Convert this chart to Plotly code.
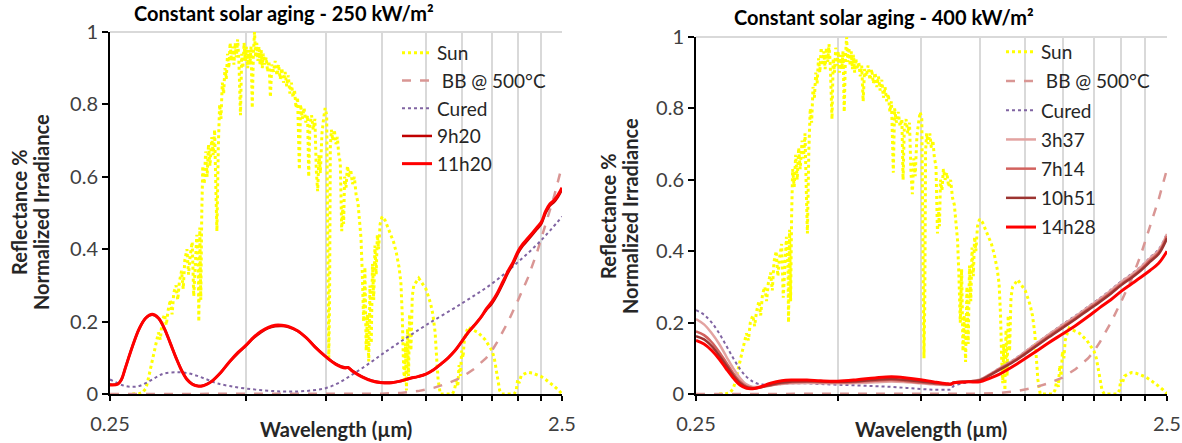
import math
import plotly.graph_objects as go

# ---------------- data ----------------
SUN_WL = [0.280, 0.290, 0.295, 0.300, 0.303, 0.306, 0.310, 0.313, 0.316, 0.320, 0.323, 0.326, 0.330, 0.333,
          0.336, 0.340, 0.343, 0.346, 0.350, 0.353, 0.356, 0.360, 0.363, 0.366, 0.370, 0.373, 0.376, 0.380,
          0.383, 0.386, 0.389, 0.392, 0.393, 0.395, 0.397, 0.399, 0.401, 0.404, 0.407, 0.410, 0.413, 0.416,
          0.420, 0.423, 0.426, 0.429, 0.431, 0.434, 0.437, 0.440, 0.443, 0.446, 0.449, 0.452, 0.455, 0.458,
          0.461, 0.464, 0.467, 0.470, 0.473, 0.476, 0.479, 0.482, 0.486, 0.489, 0.492, 0.495, 0.498, 0.501,
          0.504, 0.507, 0.510, 0.513, 0.516, 0.519, 0.522, 0.525, 0.528, 0.531, 0.534, 0.537, 0.540, 0.543,
          0.546, 0.550, 0.554, 0.558, 0.562, 0.566, 0.570, 0.575, 0.580, 0.585, 0.590, 0.595, 0.600, 0.605,
          0.610, 0.615, 0.620, 0.625, 0.630, 0.635, 0.640, 0.645, 0.650, 0.656, 0.660, 0.666, 0.672, 0.678,
          0.684, 0.688, 0.692, 0.698, 0.704, 0.710, 0.715, 0.720, 0.725, 0.730, 0.736, 0.742, 0.748, 0.754,
          0.759, 0.762, 0.765, 0.768, 0.772, 0.778, 0.784, 0.790, 0.796, 0.802, 0.808, 0.814, 0.818, 0.822,
          0.826, 0.832, 0.838, 0.845, 0.852, 0.860, 0.868, 0.876, 0.884, 0.892, 0.898, 0.904, 0.910, 0.916,
          0.922, 0.928, 0.934, 0.940, 0.946, 0.952, 0.958, 0.964, 0.970, 0.976, 0.982, 0.990, 1.000, 1.015,
          1.030, 1.045, 1.060, 1.075, 1.090, 1.100, 1.108, 1.114, 1.120, 1.126, 1.132, 1.138, 1.144, 1.150,
          1.158, 1.166, 1.175, 1.190, 1.205, 1.220, 1.235, 1.250, 1.265, 1.280, 1.295, 1.310, 1.320, 1.330,
          1.345, 1.360, 1.400, 1.430, 1.445, 1.460, 1.470, 1.480, 1.490, 1.500, 1.510, 1.520, 1.535, 1.550,
          1.570, 1.600, 1.630, 1.660, 1.690, 1.720, 1.750, 1.770, 1.790, 1.805, 1.820, 1.840, 1.900, 1.960,
          1.980, 1.995, 2.010, 2.030, 2.060, 2.100, 2.150, 2.200, 2.250, 2.300, 2.350, 2.400, 2.450, 2.500]
SUN_VAL = [0.000, 0.001, 0.004, 0.015, 0.035, 0.060, 0.090, 0.110, 0.140, 0.170, 0.150, 0.200, 0.220, 0.190,
           0.230, 0.260, 0.220, 0.280, 0.300, 0.260, 0.310, 0.340, 0.290, 0.370, 0.400, 0.330, 0.380, 0.420,
           0.270, 0.370, 0.440, 0.360, 0.200, 0.460, 0.260, 0.500, 0.630, 0.580, 0.670, 0.600, 0.690, 0.630,
           0.710, 0.660, 0.730, 0.550, 0.450, 0.680, 0.800, 0.760, 0.860, 0.830, 0.900, 0.870, 0.940, 0.900,
           0.970, 0.920, 0.960, 0.910, 0.970, 0.930, 0.980, 0.920, 0.770, 0.940, 0.900, 0.970, 0.920, 0.960,
           0.900, 0.950, 0.910, 0.960, 0.790, 0.940, 1.000, 0.930, 0.970, 0.920, 0.960, 0.910, 0.950, 0.900,
           0.940, 0.910, 0.930, 0.890, 0.920, 0.820, 0.910, 0.890, 0.920, 0.880, 0.910, 0.870, 0.900, 0.860,
           0.890, 0.850, 0.880, 0.830, 0.860, 0.820, 0.840, 0.790, 0.820, 0.620, 0.800, 0.760, 0.790, 0.750,
           0.770, 0.600, 0.740, 0.770, 0.730, 0.760, 0.620, 0.560, 0.660, 0.610, 0.720, 0.760, 0.790, 0.770,
           0.400, 0.100, 0.250, 0.680, 0.730, 0.700, 0.730, 0.690, 0.710, 0.660, 0.640, 0.450, 0.520, 0.470,
           0.600, 0.570, 0.630, 0.600, 0.620, 0.580, 0.600, 0.550, 0.530, 0.470, 0.430, 0.330, 0.200, 0.350,
           0.120, 0.220, 0.090, 0.300, 0.140, 0.360, 0.260, 0.410, 0.330, 0.440, 0.400, 0.470, 0.490, 0.480,
           0.460, 0.440, 0.420, 0.390, 0.350, 0.310, 0.220, 0.100, 0.030, 0.140, 0.010, 0.180, 0.050, 0.220,
           0.120, 0.270, 0.300, 0.310, 0.320, 0.310, 0.300, 0.290, 0.270, 0.250, 0.220, 0.170, 0.100, 0.040,
           0.000, 0.000, 0.000, 0.000, 0.010, 0.040, 0.020, 0.080, 0.050, 0.120, 0.100, 0.150, 0.170, 0.185,
           0.180, 0.175, 0.170, 0.160, 0.150, 0.135, 0.120, 0.100, 0.060, 0.030, 0.010, 0.000, 0.000, 0.000,
           0.010, 0.040, 0.030, 0.050, 0.055, 0.060, 0.058, 0.054, 0.048, 0.040, 0.032, 0.022, 0.012, 0.000]

BB_WL = [0.25, 0.50, 0.75, 0.90, 1.00, 1.10, 1.20, 1.30, 1.40, 1.50, 1.60, 1.70, 1.75, 1.80, 1.90, 2.00,
         2.10, 2.20, 2.25, 2.30, 2.40, 2.50]
BB_VAL = [0.0, 0.0, 0.0, 0.0, 0.001, 0.003, 0.008, 0.017, 0.030, 0.046, 0.070, 0.100, 0.120, 0.145, 0.200,
          0.260, 0.320, 0.390, 0.430, 0.470, 0.545, 0.630]

# left panel (250 kW/m2)
L_WL = [0.25, 0.26, 0.265, 0.27, 0.28, 0.29, 0.30, 0.31, 0.32, 0.33, 0.34, 0.35, 0.36, 0.37, 0.38, 0.39,
        0.40, 0.41, 0.42, 0.44, 0.46, 0.48, 0.50, 0.52, 0.54, 0.56, 0.58, 0.60, 0.62, 0.65, 0.68, 0.71,
        0.75, 0.79, 0.83, 0.84, 0.86, 0.90, 0.95, 1.00, 1.05, 1.10, 1.15, 1.20, 1.25, 1.30, 1.35, 1.40,
        1.45, 1.50, 1.55, 1.60, 1.65, 1.70, 1.75, 1.80, 1.85, 1.90, 1.95, 2.00, 2.05, 2.10, 2.15, 2.20,
        2.25, 2.30, 2.35, 2.40, 2.45, 2.50]
L_9H20 = [0.026, 0.028, 0.040, 0.070, 0.130, 0.180, 0.210, 0.219, 0.209, 0.180, 0.140, 0.100, 0.066, 0.041,
          0.028, 0.023, 0.023, 0.028, 0.036, 0.060, 0.089, 0.113, 0.134, 0.155, 0.171, 0.182, 0.187, 0.188,
          0.185, 0.174, 0.155, 0.131, 0.104, 0.083, 0.073, 0.074, 0.064, 0.049, 0.037, 0.032, 0.032, 0.036,
          0.043, 0.048, 0.055, 0.067, 0.083, 0.100, 0.120, 0.145, 0.170, 0.190, 0.210, 0.232, 0.250, 0.275,
          0.305, 0.335, 0.360, 0.390, 0.410, 0.425, 0.440, 0.455, 0.470, 0.500, 0.520, 0.530, 0.545, 0.565]
L_11H20 = [0.025, 0.027, 0.040, 0.070, 0.130, 0.180, 0.210, 0.220, 0.210, 0.180, 0.140, 0.100, 0.065, 0.040,
           0.027, 0.022, 0.022, 0.027, 0.035, 0.060, 0.090, 0.115, 0.135, 0.157, 0.173, 0.184, 0.190, 0.190,
           0.187, 0.175, 0.155, 0.130, 0.103, 0.082, 0.072, 0.073, 0.063, 0.048, 0.036, 0.031, 0.031, 0.036,
           0.043, 0.048, 0.055, 0.067, 0.083, 0.100, 0.120, 0.145, 0.170, 0.190, 0.210, 0.235, 0.255, 0.280,
           0.310, 0.340, 0.365, 0.395, 0.415, 0.430, 0.445, 0.460, 0.475, 0.505, 0.525, 0.535, 0.550, 0.570]
L_CURED_WL = [0.25, 0.26, 0.27, 0.28, 0.29, 0.30, 0.31, 0.32, 0.33, 0.35, 0.37, 0.39, 0.41, 0.43, 0.46,
              0.50, 0.55, 0.60, 0.65, 0.70, 0.75, 0.80, 0.85, 0.90, 0.95, 1.00, 1.10, 1.25, 1.50, 1.75,
              2.00, 2.25, 2.50]
L_CURED = [0.040, 0.030, 0.022, 0.020, 0.022, 0.030, 0.040, 0.050, 0.057, 0.060, 0.058, 0.050, 0.040,
           0.030, 0.022, 0.015, 0.010, 0.007, 0.007, 0.010, 0.016, 0.030, 0.050, 0.070, 0.090, 0.110,
           0.145, 0.190, 0.250, 0.305, 0.365, 0.425, 0.490]

# right panel (400 kW/m2)
R_WL = [0.25, 0.26, 0.27, 0.28, 0.29, 0.30, 0.31, 0.32, 0.33, 0.34, 0.36, 0.38, 0.40, 0.43, 0.46, 0.50,
        0.55, 0.60, 0.65, 0.70, 0.75, 0.80, 0.85, 0.87, 0.88, 0.92, 0.95, 1.00, 1.05, 1.10, 1.20, 1.30,
        1.40, 1.50, 1.60, 1.70, 1.80, 1.90, 2.00, 2.10, 2.20, 2.30, 2.40, 2.50]
R_CURED = [0.235, 0.222, 0.200, 0.170, 0.135, 0.100, 0.070, 0.048, 0.035, 0.028, 0.026, 0.028, 0.030, 0.030,
           0.028, 0.026, 0.024, 0.022, 0.020, 0.017, 0.014, 0.012, 0.012, 0.013, 0.022, 0.030, 0.033, 0.040,
           0.055, 0.072, 0.102, 0.136, 0.167, 0.195, 0.220, 0.245, 0.268, 0.292, 0.316, 0.336, 0.357, 0.382,
           0.405, 0.450]
R_3H37 = [0.210, 0.195, 0.170, 0.140, 0.105, 0.072, 0.045, 0.027, 0.020, 0.020, 0.024, 0.028, 0.030, 0.031,
          0.030, 0.030, 0.031, 0.033, 0.035, 0.033, 0.030, 0.027, 0.025, 0.026, 0.032, 0.034, 0.035, 0.040,
          0.055, 0.071, 0.101, 0.135, 0.166, 0.193, 0.218, 0.243, 0.266, 0.290, 0.314, 0.334, 0.355, 0.380,
          0.402, 0.448]
R_7H14 = [0.175, 0.165, 0.145, 0.118, 0.088, 0.058, 0.035, 0.021, 0.017, 0.018, 0.024, 0.030, 0.033, 0.034,
          0.033, 0.032, 0.034, 0.037, 0.039, 0.036, 0.032, 0.029, 0.026, 0.027, 0.032, 0.034, 0.035, 0.039,
          0.053, 0.069, 0.098, 0.131, 0.161, 0.188, 0.213, 0.238, 0.261, 0.284, 0.308, 0.328, 0.349, 0.374,
          0.396, 0.442]
R_10H51 = [0.162, 0.153, 0.134, 0.108, 0.080, 0.052, 0.031, 0.019, 0.016, 0.018, 0.026, 0.032, 0.035, 0.036,
           0.035, 0.034, 0.036, 0.040, 0.042, 0.039, 0.035, 0.031, 0.028, 0.028, 0.032, 0.034, 0.035, 0.038,
           0.052, 0.067, 0.096, 0.128, 0.158, 0.185, 0.210, 0.235, 0.258, 0.281, 0.305, 0.325, 0.346, 0.370,
           0.392, 0.436]
R_14H28 = [0.150, 0.140, 0.122, 0.098, 0.070, 0.045, 0.025, 0.016, 0.015, 0.018, 0.030, 0.037, 0.039, 0.039,
           0.037, 0.036, 0.040, 0.045, 0.048, 0.045, 0.040, 0.034, 0.029, 0.028, 0.031, 0.033, 0.034, 0.034,
           0.044, 0.055, 0.084, 0.114, 0.143, 0.168, 0.192, 0.217, 0.242, 0.264, 0.288, 0.308, 0.327, 0.346,
           0.366, 0.400]

TITLE_L = "Constant solar aging - 250 kW/m²"
TITLE_R = "Constant solar aging - 400 kW/m²"
X_TITLE = "Wavelength (µm)"
Y_TITLE_1 = "Reflectance %"
Y_TITLE_2 = "Normalized Irradiance"
X_TICKS = [0.25, 0.5, 0.75, 1.0, 1.25, 1.5, 1.75, 2.0, 2.25, 2.5]
X_TICKTEXT = ["0.25", "", "", "", "", "", "", "", "", "2.5"]
Y_TICKS = [0, 0.2, 0.4, 0.6, 0.8, 1.0]
Y_TICKTEXT = ["0", "0.2", "0.4", "0.6", "0.8", "1"]

# ---------------- styles ----------------
FONT = "Lato, 'Open Sans', sans-serif"
SUN_C, BB_C, CURED_C = "#FFFF00", "#D99694", "#8064A2"

W, H = 1182, 443
fig = go.Figure()


def add_panel(xa, ya, legend, aged):
    xs = "x" if xa == 1 else "x%d" % xa
    ys = "y" if ya == 1 else "y%d" % ya
    fig.add_trace(go.Scatter(x=SUN_WL, y=SUN_VAL, mode="lines", name="Sun", xaxis=xs, yaxis=ys,
                             line=dict(color=SUN_C, width=3, dash="3px,3px"), legend=legend,
                             legendgroup=legend + "a"))
    fig.add_trace(go.Scatter(x=BB_WL, y=BB_VAL, mode="lines", name=" BB @ 500°C", xaxis=xs, yaxis=ys,
                             line=dict(color=BB_C, width=2.5, dash="dash"), legend=legend,
                             legendgroup=legend + "b"))
    for i, (name, wl, vals, color, width, dash) in enumerate(aged):
        fig.add_trace(go.Scatter(x=wl, y=vals, mode="lines", name=name, xaxis=xs, yaxis=ys,
                                 line=dict(color=color, width=width, dash=dash, shape="spline"),
                                 legend=legend, legendgroup=legend + "c%d" % i))


add_panel(1, 1, "legend", [
    ("Cured", L_CURED_WL, L_CURED, CURED_C, 2, "dot"),
    ("9h20", L_WL, L_9H20, "#C00000", 2.5, "solid"),
    ("11h20", L_WL, L_11H20, "#FF0000", 3, "solid"),
])
add_panel(2, 2, "legend2", [
    ("Cured", R_WL, R_CURED, CURED_C, 2, "dot"),
    ("3h37", R_WL, R_3H37, "#E3A3A1", 2.5, "solid"),
    ("7h14", R_WL, R_7H14, "#D2625E", 2.5, "solid"),
    ("10h51", R_WL, R_10H51, "#9C3431", 2.5, "solid"),
    ("14h28", R_WL, R_14H28, "#FF0000", 3, "solid"),
])

L_X0, L_X1, L_Y0, L_Y1 = 110, 562, 394, 32
R_X0, R_X1, R_Y0, R_Y1 = 696, 1167, 394, 37


def xdom(a, b):
    return [a / W, b / W]


def ydom(bot, top):
    return [(H - bot) / H, (H - top) / H]


TICKFONT = dict(family=FONT, size=20, color="#404040")
xcommon = dict(type="log", range=[math.log10(0.25), math.log10(2.5)], tickvals=X_TICKS,
               ticktext=X_TICKTEXT, showgrid=True, gridcolor="#D9D9D9", gridwidth=2,
               showline=True, linecolor="black", linewidth=2, ticks="outside", ticklen=5,
               tickwidth=2, tickcolor="black", zeroline=False, layer="below traces",
               tickfont=TICKFONT, ticklabelstandoff=6, automargin=False)
ycommon = dict(range=[0, 1], tickvals=Y_TICKS, ticktext=Y_TICKTEXT, showgrid=False, zeroline=False,
               showline=True, linecolor="black", linewidth=2, ticks="outside", ticklen=6, tickwidth=2,
               tickcolor="black", tickfont=TICKFONT, automargin=False)

TITLE_FONT = dict(family=FONT, size=20, color="black")
AXT_FONT = dict(family=FONT, size=20, color="#262626")
YT_FONT = dict(family=FONT, size=20, color="#262626")


def ann(text, x, y, font, xanchor="center", yanchor="middle", angle=0):
    return dict(text="<b>" + text + "</b>", x=x / W, y=(H - y) / H, xref="paper", yref="paper",
                showarrow=False, xanchor=xanchor, yanchor=yanchor, textangle=angle, font=font)


annotations = [
    ann(TITLE_L, 284, 13, TITLE_FONT),
    ann(TITLE_R, 884, 17, TITLE_FONT),
    ann(X_TITLE, (L_X0 + L_X1) / 2, 429, AXT_FONT),
    ann(X_TITLE, (R_X0 + R_X1) / 2, 429, AXT_FONT),
    ann(Y_TITLE_1, 19, 212, YT_FONT, angle=-90),
    ann(Y_TITLE_2, 41, 212, YT_FONT, angle=-90),
    ann(Y_TITLE_1, 608, 216, YT_FONT, angle=-90),
    ann(Y_TITLE_2, 630, 216, YT_FONT, angle=-90),
]

fig.update_layout(
    width=W, height=H, margin=dict(l=0, r=0, t=0, b=0, autoexpand=False),
    paper_bgcolor="white", plot_bgcolor="white",
    xaxis=dict(domain=xdom(L_X0, L_X1), anchor="y", **xcommon),
    yaxis=dict(domain=ydom(L_Y0, L_Y1), anchor="x", **ycommon),
    xaxis2=dict(domain=xdom(R_X0, R_X1), anchor="y2", **xcommon),
    yaxis2=dict(domain=ydom(R_Y0, R_Y1), anchor="x2", **ycommon),
    legend=dict(x=397 / W, y=(H - 34) / H, xanchor="left", yanchor="top", bgcolor="rgba(0,0,0,0)",
                font=dict(family=FONT, size=19, color="#262626"), tracegroupgap=0,
                traceorder="grouped"),
    legend2=dict(x=1001 / W, y=(H - 33) / H, xanchor="left", yanchor="top", bgcolor="rgba(0,0,0,0)",
                 font=dict(family=FONT, size=19, color="#262626"), tracegroupgap=1.5,
                 traceorder="grouped"),
    annotations=annotations,
    shapes=[
        dict(type="line", xref="x domain", yref="y domain", x0=0, x1=1, y0=1, y1=1,
             line=dict(color="#D9D9D9", width=2), layer="below"),
        dict(type="line", xref="x2 domain", yref="y2 domain", x0=0, x1=1, y0=1, y1=1,
             line=dict(color="#D9D9D9", width=2), layer="below"),
    ],
)

fig.write_html("out.html", config={"displayModeBar": False},
               post_script="document.body.style.margin='0px';document.body.style.overflow='hidden';")
